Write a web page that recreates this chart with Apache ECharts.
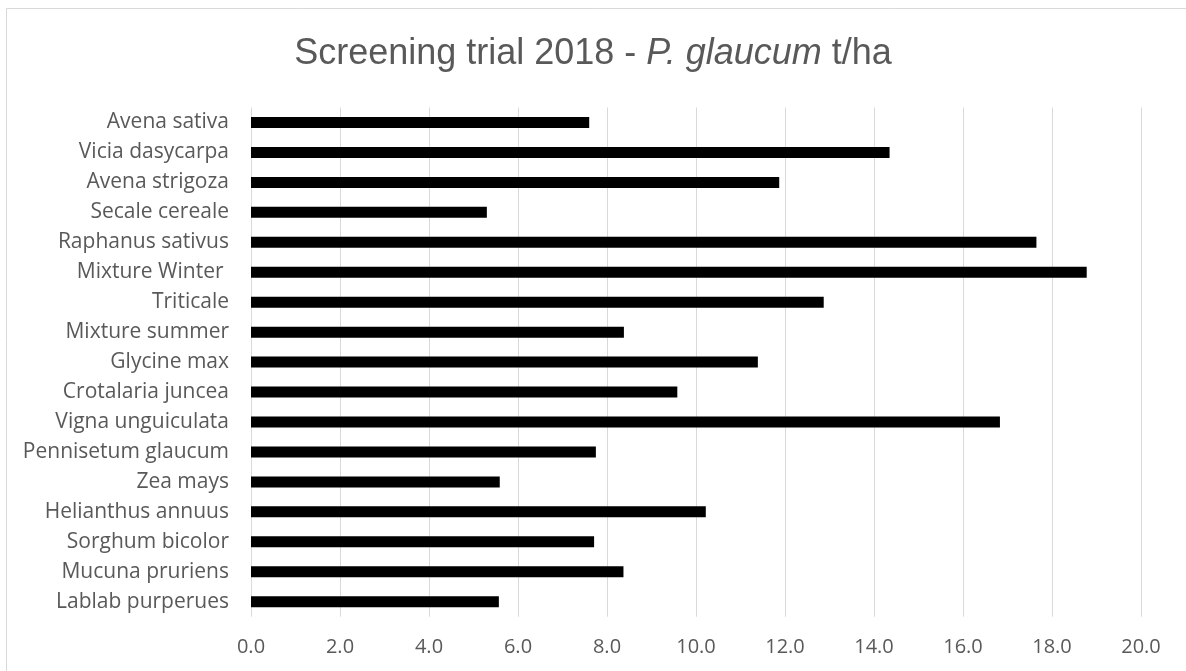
<!DOCTYPE html>
<html>
<head>
<meta charset="utf-8">
<script src="https://cdn.jsdelivr.net/npm/echarts@6/dist/echarts.min.js"></script>
<style>
  html, body { margin: 0; padding: 0; background: #fff; }
  #chart { width: 1186px; height: 671px; }
</style>
</head>
<body>
<div id="chart"></div>
<script>
// categories top to bottom as they appear in the chart
const species = [
  'Avena sativa', 'Vicia dasycarpa', 'Avena strigoza', 'Secale cereale',
  'Raphanus sativus', 'Mixture Winter ', 'Triticale', 'Mixture summer',
  'Glycine max', 'Crotalaria juncea', 'Vigna unguiculata', 'Pennisetum glaucum',
  'Zea mays', 'Helianthus annuus', 'Sorghum bicolor', 'Mucuna pruriens',
  'Lablab purperues'
]
// yield t/ha
const yieldTha = [
  7.6, 14.35, 11.87, 5.3,
  17.65, 18.78, 12.87, 8.38,
  11.39, 9.58, 16.83, 7.75,
  5.59, 10.22, 7.71, 8.37,
  5.57
]
const xMin = 0
const xMax = 20
const xStep = 2

const grey = '#595959'
const chart = echarts.init(document.getElementById('chart'))

chart.setOption({
  animation: false,
  title: {
    text: '{a|Screening trial 2018 - }{b|P. glaucum}{a| t/ha}',
    left: 'center',
    top: 31,
    textStyle: {
      fontWeight: 'normal',
      rich: {
        a: { fontFamily: 'Liberation Sans', fontSize: 36, fontWeight: 'normal', color: grey },
        b: { fontFamily: 'Liberation Sans', fontSize: 36, fontWeight: 'normal', color: grey, fontStyle: 'italic' }
      }
    }
  },
  // light frame round the chart area, runs off the right and bottom edge
  graphic: [{
    type: 'rect',
    shape: { x: 6.5, y: 8.5, width: 1300, height: 800 },
    style: { fill: 'none', stroke: '#d9d9d9', lineWidth: 1 },
    silent: true
  }],
  grid: {
    left: 251,
    right: 45,
    top: 107.5,
    bottom: 54.3,
    containLabel: false
  },
  xAxis: {
    type: 'value',
    min: xMin,
    max: xMax,
    interval: xStep,
    axisLine: { show: false },
    axisTick: { show: false },
    axisLabel: {
      color: grey,
      fontFamily: 'Open Sans',
      fontSize: 20,
      margin: 21,
      formatter: (v) => v.toFixed(1)
    },
    splitLine: { show: true, lineStyle: { color: '#d9d9d9', width: 1 } }
  },
  yAxis: {
    type: 'category',
    data: species,
    inverse: true,
    axisLine: { show: false },
    axisTick: { show: false },
    axisLabel: {
      color: grey,
      fontFamily: 'Open Sans',
      fontSize: 21,
      margin: 22
    }
  },
  series: [{
    type: 'bar',
    data: yieldTha,
    barWidth: 11,
    itemStyle: { color: '#000' }
  }]
})
</script>
</body>
</html>
